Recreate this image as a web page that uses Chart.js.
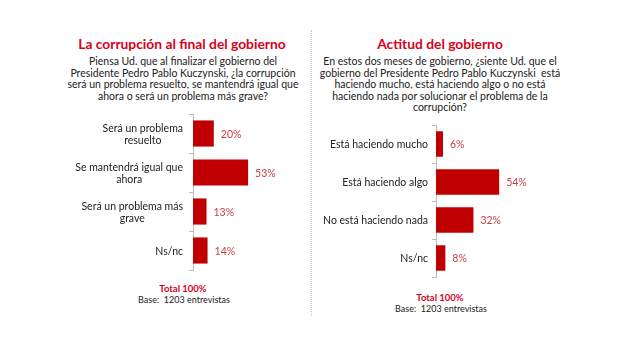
<!DOCTYPE html>
<html><head><meta charset="utf-8">
<script src="https://cdn.jsdelivr.net/npm/chart.js@4/dist/chart.umd.min.js"></script>
<style>
html,body{margin:0;padding:0;background:#fff;}
#wrap{position:relative;width:640px;height:357px;overflow:hidden;font-family:Lato,"Open Sans",sans-serif;color:#222;}
.t{position:absolute;text-align:center;white-space:nowrap;transform:translateX(-50%);}
.title{font-weight:bold;font-size:13.8px;color:#d8001a;line-height:16px;}
.q{font-size:10.5px;line-height:11.5px;color:#222;}
.tot{font-weight:bold;font-size:9.5px;color:#d8001a;line-height:11px;}
.base{font-size:9px;line-height:11px;color:#222;}
#sep{position:absolute;left:311px;top:30px;height:286px;width:0;border-left:1px dotted #c8c8c8;}
canvas{position:absolute;}
</style></head>
<body><div id="wrap">
<div class="t title" style="left:182px;top:36px;">La corrupción al final del gobierno</div>
<div class="t q" style="left:183px;top:56px;">Piensa Ud. que al finalizar el gobierno del<br>Presidente Pedro Pablo Kuczynski, ¿la corrupción<br>será un problema resuelto, se mantendrá igual que<br>ahora o será un problema más grave?</div>
<div class="t title" style="left:440px;top:36px;">Actitud del gobierno</div>
<div class="t q" style="left:440px;top:56px;">En estos dos meses de gobierno, ¿siente Ud. que el<br>gobierno del Presidente Pedro Pablo Kuczynski &nbsp;está<br>haciendo mucho, está haciendo algo o no está<br>haciendo nada por solucionar el problema de la<br>corrupción?</div>
<div id="sep"></div>
<div style="position:absolute;left:0;top:100px;width:320px;height:180px;"><canvas id="c1" width="320" height="180"></canvas></div>
<div style="position:absolute;left:320px;top:110px;width:320px;height:180px;"><canvas id="c2" width="320" height="180"></canvas></div>
<div class="t tot" style="left:183px;top:283px;">Total 100%</div>
<div class="t base" style="left:184px;top:294px;">Base: &nbsp;1203 entrevistas</div>
<div class="t tot" style="left:440px;top:292px;">Total 100%</div>
<div class="t base" style="left:441px;top:303px;">Base: &nbsp;1203 entrevistas</div>
</div>
<script>
const leftCategories = [["Será un problema","resuelto"],["Se mantendrá igual que","ahora"],["Será un problema más","grave"],"Ns/nc"];
const leftValues = [20, 53, 13, 14];
const rightCategories = ["Está haciendo mucho","Está haciendo algo","No está haciendo nada","Ns/nc"];
const rightValues = [6, 54, 32, 8];
const valueSuffix = "%";
const FONT = 'Lato, "Open Sans", sans-serif';

const labelPlugin = {
  id: 'valLabels',
  afterDatasetsDraw(chart, args, opts) {
    const ctx = chart.ctx;
    const meta = chart.getDatasetMeta(0);
    ctx.save();
    ctx.font = '10.5px ' + FONT;
    ctx.fillStyle = '#cc3d42';
    ctx.textAlign = 'left';
    ctx.textBaseline = 'middle';
    meta.data.forEach((bar, i) => {
      ctx.fillText(chart.data.datasets[0].data[i] + valueSuffix, bar.x + 7, bar.y + 1);
    });
    // category labels: each line centred within its block, block right edge near the axis
    const ys = chart.scales.y;
    ctx.fillStyle = '#222';
    ctx.textAlign = 'left';
    chart.data.labels.forEach((lab, i) => {
      const lines = Array.isArray(lab) ? lab : [lab];
      const widths = lines.map(l => ctx.measureText(l).width);
      const w = Math.max(...widths);
      const cx = ys.right - opts.gap - w / 2;
      const cy = ys.getPixelForTick(i);
      const lh = 12;
      lines.forEach((l, k) => {
        ctx.fillText(l, cx - widths[k] / 2, cy + 1 + (k - (lines.length - 1) / 2) * lh);
      });
    });
    ctx.restore();
  }
};

function makeChart(id, cats, vals, axisWidth, pad, gap) {
  return new Chart(document.getElementById(id), {
    type: 'bar',
    data: { labels: cats, datasets: [{ data: vals, backgroundColor: '#c00000', borderWidth: 0, barPercentage: 0.67, categoryPercentage: 1 }] },
    options: {
      indexAxis: 'y', responsive: false, animation: false,
      layout: { padding: pad },
      plugins: { legend: { display: false }, tooltip: { enabled: false }, valLabels: { gap: gap } },
      scales: {
        x: { display: false, min: 0, max: 100 },
        y: {
          afterFit(s) { s.width = axisWidth; },
          grid: { drawOnChartArea: false, offset: true, drawTicks: true, tickLength: 4, color: '#bdbdbd' },
          border: { display: true, color: '#bdbdbd' },
          ticks: { display: false }
        }
      }
    },
    plugins: [labelPlugin]
  });
}
makeChart('c1', leftCategories, leftValues, 193, { top: 14, bottom: 10, right: 23, left: 0 }, 10);
makeChart('c2', rightCategories, rightValues, 116, { top: 15, bottom: 13, right: 87, left: 0 }, 8);
</script>
</body></html>
